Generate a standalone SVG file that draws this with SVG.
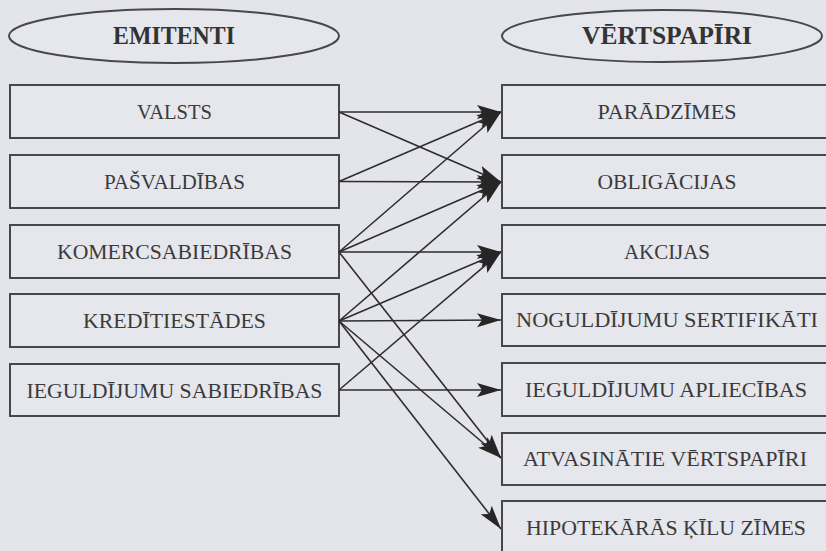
<svg xmlns="http://www.w3.org/2000/svg" width="826" height="551" viewBox="0 0 826 551">
<style>
.bg{fill:#e4e4eb}
.box{fill:#e6e6ed;stroke:#484848;stroke-width:2}
.ell{fill:#e6e6ed;stroke:#484848;stroke-width:2}
.lbl{font-family:"Liberation Serif","Times New Roman",serif;font-size:21px;fill:#3a3a3a;text-anchor:middle}
.ttl{font-family:"Liberation Serif","Times New Roman",serif;font-size:25px;font-weight:bold;fill:#333;text-anchor:middle}
.con line{stroke:#2e2e2e;stroke-width:1.6;marker-end:url(#ah)}
</style>
<defs>
<marker id="ah" markerUnits="userSpaceOnUse" markerWidth="28" markerHeight="18" viewBox="-26 -9 28 18" refX="0" refY="0" orient="auto">
<path d="M0,0 L-24,-7 L-19,0 L-24,7 Z" fill="#262626"/>
</marker>
</defs>
<rect class="bg" x="0" y="0" width="826" height="551"/>

<g id="emitenti">
<ellipse class="ell" cx="174" cy="36" rx="165" ry="27"/>
<text class="ttl" x="174" y="44" textLength="122" lengthAdjust="spacingAndGlyphs">EMITENTI</text>
</g>
<g id="vertspapiri">
<ellipse class="ell" cx="662" cy="36" rx="160" ry="26"/>
<text class="ttl" x="667" y="44" textLength="170" lengthAdjust="spacingAndGlyphs">VĒRTSPAPĪRI</text>
</g>

<g id="valsts"><rect class="box" x="10" y="85" width="329" height="53"/><text class="lbl" x="174.5" y="119" textLength="75" lengthAdjust="spacingAndGlyphs">VALSTS</text></g>
<g id="pasvaldibas"><rect class="box" x="10" y="155" width="329" height="53"/><text class="lbl" x="174.5" y="189" textLength="141" lengthAdjust="spacingAndGlyphs">PAŠVALDĪBAS</text></g>
<g id="komercsabiedribas"><rect class="box" x="10" y="225" width="329" height="53"/><text class="lbl" x="174.5" y="258.5" textLength="235" lengthAdjust="spacingAndGlyphs">KOMERCSABIEDRĪBAS</text></g>
<g id="kreditiestades"><rect class="box" x="10" y="294" width="329" height="53"/><text class="lbl" x="174.5" y="328" textLength="183" lengthAdjust="spacingAndGlyphs">KREDĪTIESTĀDES</text></g>
<g id="ieguldijumu-sabiedribas"><rect class="box" x="10" y="364" width="329" height="52"/><text class="lbl" x="174.5" y="397.5" textLength="296" lengthAdjust="spacingAndGlyphs">IEGULDĪJUMU SABIEDRĪBAS</text></g>

<g id="paradzimes"><rect class="box" x="502" y="85" width="330" height="53"/><text class="lbl" x="667" y="119" textLength="139" lengthAdjust="spacingAndGlyphs">PARĀDZĪMES</text></g>
<g id="obligacijas"><rect class="box" x="502" y="155" width="330" height="53"/><text class="lbl" x="667" y="189" textLength="139" lengthAdjust="spacingAndGlyphs">OBLIGĀCIJAS</text></g>
<g id="akcijas"><rect class="box" x="502" y="225" width="330" height="53"/><text class="lbl" x="667" y="258.5" textLength="86" lengthAdjust="spacingAndGlyphs">AKCIJAS</text></g>
<g id="noguldijumu-sertifikati"><rect class="box" x="502" y="294" width="330" height="52"/><text class="lbl" x="667" y="326.5" textLength="302" lengthAdjust="spacingAndGlyphs">NOGULDĪJUMU SERTIFIKĀTI</text></g>
<g id="ieguldijumu-apliecibas"><rect class="box" x="502" y="363" width="330" height="53"/><text class="lbl" x="666" y="396.5" textLength="282" lengthAdjust="spacingAndGlyphs">IEGULDĪJUMU APLIECĪBAS</text></g>
<g id="atvasinatie-vertspapiri"><rect class="box" x="502" y="433" width="330" height="52"/><text class="lbl" x="665" y="465.5" textLength="284" lengthAdjust="spacingAndGlyphs">ATVASINĀTIE VĒRTSPAPĪRI</text></g>
<g id="hipotekaras-kilu-zimes"><rect class="box" x="502" y="501" width="330" height="54"/><text class="lbl" x="666" y="534.5" textLength="280" lengthAdjust="spacingAndGlyphs">HIPOTEKĀRĀS ĶĪLU ZĪMES</text></g>

<g id="connectors" class="con">
<line x1="339" y1="112" x2="501" y2="112"/>
<line x1="339" y1="112" x2="501" y2="182"/>
<line x1="339" y1="181.5" x2="501" y2="112"/>
<line x1="339" y1="181.5" x2="501" y2="182"/>
<line x1="339" y1="252" x2="501" y2="112"/>
<line x1="339" y1="252" x2="501" y2="182"/>
<line x1="339" y1="252" x2="501" y2="252"/>
<line x1="339" y1="252" x2="501" y2="458"/>
<line x1="339" y1="321" x2="501" y2="182"/>
<line x1="339" y1="321" x2="501" y2="252"/>
<line x1="339" y1="321" x2="501" y2="320"/>
<line x1="339" y1="321" x2="501" y2="458"/>
<line x1="339" y1="321" x2="501" y2="529"/>
<line x1="339" y1="390" x2="501" y2="252"/>
<line x1="339" y1="390" x2="501" y2="390"/>
</g>
</svg>
